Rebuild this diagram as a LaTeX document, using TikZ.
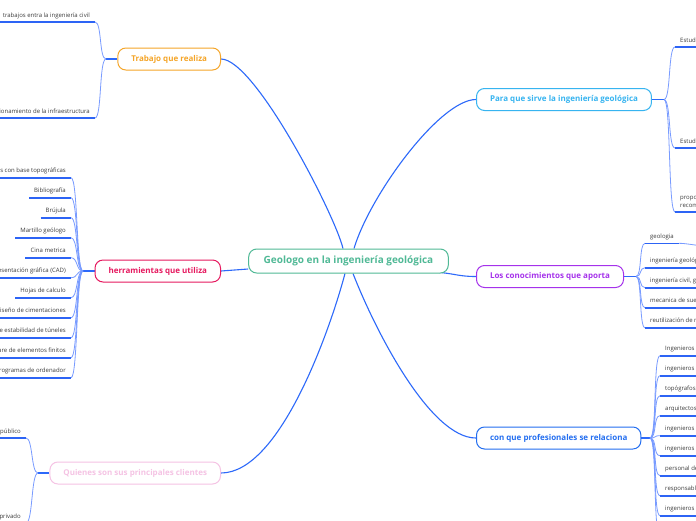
\documentclass[tikz,border=0pt]{standalone}
\usepackage{fontspec}
\setmainfont{Open Sans}
\usetikzlibrary{calc}
\pgfdeclarelayer{paper}
\pgfdeclarelayer{bg}
\pgfsetlayers{paper,bg,main}
\definecolor{cteal}{RGB}{80,185,150}
\definecolor{corange}{RGB}{245,165,40}
\definecolor{ccrimson}{RGB}{230,25,95}
\definecolor{cpink}{RGB}{245,195,228}
\definecolor{csky}{RGB}{55,180,240}
\definecolor{cpurple}{RGB}{165,50,235}
\definecolor{cblue}{RGB}{35,110,240}
\definecolor{mainline}{RGB}{45,105,250}
\definecolor{subline}{RGB}{120,155,255}
\definecolor{ulinec}{RGB}{45,100,245}
\definecolor{leaftext}{RGB}{60,60,60}
\begin{document}
\begin{tikzpicture}[x=1pt,y=-1pt,
  topic/.style={draw, line width=1pt, rounded corners=8pt, fill=white,
    font=\fontsize{8}{9}\selectfont\bfseries, minimum height=22pt,
    inner xsep=13.5pt, inner ysep=0pt},
  central/.style={topic, font=\fontsize{10}{12}\selectfont\bfseries,
    minimum height=24pt, inner xsep=15pt},
  leaf/.style={font=\fontsize{6}{8}\selectfont, text=leaftext,
    inner xsep=5pt, inner ysep=3.5pt, text height=4.4pt, text depth=1.3pt,
    append after command={(\tikzlastnode.south west) edge[draw=ulinec, line width=1.6pt] (\tikzlastnode.south east)}},
  leafL/.style={leaf, anchor=south east},
  leafR/.style={leaf, anchor=south west, align=left},
  mline/.style={draw=mainline, line width=1.1pt},
  sline/.style={draw=subline, line width=0.8pt}]
\useasboundingbox (0,0) rectangle (696,520);
\begin{pgfonlayer}{paper}
\fill[white] (0,0) rectangle (696,520);
\end{pgfonlayer}

% main topics
\node[central, draw=cteal, text=cteal] (c) at (348.5,261) {Geologo en la ingeniería geológica};
\node[topic, draw=corange, text=corange, anchor=east] (t) at (221,59) {Trabajo que realiza};
\node[topic, draw=ccrimson, text=ccrimson, anchor=east] (h) at (221,271) {herramientas que utiliza};
\node[topic, draw=cpink, text=cpink, anchor=east] (q) at (221,473) {Quienes son sus principales clientes};
\node[topic, draw=csky, text=csky, anchor=west] (p) at (476,99.5) {Para que sirve la ingeniería geológica};
\node[topic, draw=cpurple, text=cpurple, anchor=west] (l) at (476,276.5) {Los conocimientos que aporta};
\node[topic, draw=cblue, text=cblue, anchor=west] (k) at (476,438) {con que profesionales se relaciona};

% junctions
\coordinate (tj) at (106,59);
\coordinate (hj) at (83,271);
\coordinate (qj) at (38,473);
\coordinate (pj) at (664,99.5);
\coordinate (lj) at (636,276.5);
\coordinate (kj) at (650,438);

% leaves: Trabajo
\node[leafL] (t1) at (95,22) {trabajos entra la ingeniería civil};
\node[leafL] (t2) at (95,118) {funcionamiento de la infraestructura};

% leaves: herramientas
\node[leafL] (h1) at (71,177.7) {Mapas con base topográficas};
\node[leafL] (h2) at (71,197.7) {Bibliografía};
\node[leafL] (h3) at (71,217.7) {Brújula};
\node[leafL] (h4) at (71,237.7) {Martillo geólogo};
\node[leafL] (h5) at (71,257.7) {Cina metrica};
\node[leafL] (h6) at (71,277.7) {Programas de representación gráfica (CAD)};
\node[leafL] (h7) at (71,297.7) {Hojas de calculo};
\node[leafL] (h8) at (71,317.7) {Programas de diseño de cimentaciones};
\node[leafL] (h9) at (71,337.7) {Programas de cálculo de estabilidad de túneles};
\node[leafL] (h10) at (71,357.7) {Software de elementos finitos};
\node[leafL] (h11) at (71,377.7) {Programas de ordenador};

% leaves: Quienes
\node[leafL] (q1) at (26,438) {Sector público};
\node[leafL] (q2) at (26,523) {Sector privado};

% leaves: Para que sirve
\node[leafR] (p1) at (675,47) {Estudio de las características del terreno};
\node[leafR] (p2) at (675,148) {Estudio de los riesgos geológicos};
\node[leafR] (p3) at (675,212) {proponer soluciones y\\recomendaciones};

% leaves: Los conocimientos
\node[leafR] (l1) at (645,243.3) {geologia};
\node[leafR] (l2) at (645,267.7) {ingeniería geológica};
\node[leafR] (l3) at (645,287.7) {ingeniería civil, geotecnia};
\node[leafR] (l4) at (645,307.7) {mecanica de suelos};
\node[leafR] (l5) at (645,327.7) {reutilización de materiales};
\coordinate (lx) at (706,246);

% leaves: con que profesionales
\node[leafR] (k1) at (660,355.7) {Ingenieros civiles};
\node[leafR] (k2) at (660,375.7) {ingenieros de minas};
\node[leafR] (k3) at (660,395.7) {topógrafos};
\node[leafR] (k4) at (660,415.7) {arquitectos};
\node[leafR] (k5) at (660,435.7) {ingenieros ambientales};
\node[leafR] (k6) at (660,455.7) {ingenieros hidráulicos};
\node[leafR] (k7) at (660,475.7) {personal de obra};
\node[leafR] (k8) at (660,495.7) {responsables de proyecto};
\node[leafR] (k9) at (660,515.7) {ingenieros de caminos};
\coordinate (k10) at (660,535.7);

\begin{pgfonlayer}{bg}
% central connectors
\draw[mline] (t.east) .. controls (255,59) and (335,215) .. ([xshift=-5.5pt]c.north);
\draw[mline] (p.west) .. controls (440,99.5) and (370,195) .. ([xshift=5.5pt]c.north);
\draw[mline] (q.east) .. controls (280,473) and (330,330) .. ([xshift=-3.5pt]c.south);
\draw[mline] (k.west) .. controls (430,438) and (375,330) .. ([xshift=4.5pt]c.south);
\draw[mline] (h.east) -- ([yshift=-8pt]c.west);
\draw[mline] ([xshift=-22pt,yshift=-11pt]c.east) .. controls (452,272) and (455,276.5) .. (l.west);

% topic to junction
\draw[mline] (t.west) -- (tj);
\draw[mline] (h.west) -- (hj);
\draw[mline] (q.west) -- (qj);
\draw[mline] (p.east) -- (pj);
\draw[mline] (l.east) -- (lj);
\draw[mline] (k.east) -- (kj);

% junction to leaves (left)
\foreach \n in {t1,t2} \draw[sline] (tj) .. controls +(-7,0) and +(7,0) .. (\n.south east);
\foreach \n in {h1,h2,h3,h4,h5,h6,h7,h8,h9,h10,h11} \draw[sline] (hj) .. controls +(-7,0) and +(7,0) .. (\n.south east);
\foreach \n in {q1,q2} \draw[sline] (qj) .. controls +(-7,0) and +(7,0) .. (\n.south east);
% junction to leaves (right)
\foreach \n in {p1,p2,p3} \draw[sline] (pj) .. controls +(7,0) and +(-7,0) .. (\n.south west);
\foreach \n in {l1,l2,l3,l4,l5} \draw[sline] (lj) .. controls +(6,0) and +(-6,0) .. (\n.south west);
\foreach \n in {k1,k2,k3,k4,k5,k6,k7,k8,k9} \draw[sline] (kj) .. controls +(7,0) and +(-7,0) .. (\n.south west);
\draw[sline] (kj) .. controls +(7,0) and +(-7,0) .. (k10);
\draw[sline] (l1.south east) .. controls +(8,0) and +(-8,0) .. (lx);
\end{pgfonlayer}
\end{tikzpicture}
\end{document}
